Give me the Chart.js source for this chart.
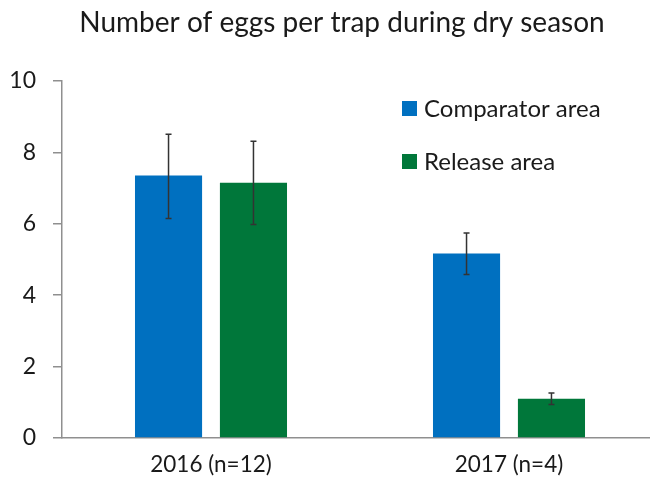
<!DOCTYPE html>
<html>
<head>
<meta charset="utf-8">
<script src="https://cdn.jsdelivr.net/npm/chart.js@4.4.1/dist/chart.umd.min.js"></script>
<style>
    html, body { margin: 0; padding: 0; background: #fff; overflow: hidden; }
    #frame { width: 650px; height: 484px; overflow: hidden; }
    /* the plot in the original runs a little past the right edge */
    #wrap { width: 658px; height: 484px; }
</style>
</head>
<body>
<div id="frame"><div id="wrap"><canvas id="eggs_chart"></canvas></div></div>
<script>
const chartTitle = 'Number of eggs per trap during dry season';
const categories = ['2016 (n=12)', '2017 (n=4)'];
const yTicks = [0, 2, 4, 6, 8, 10];

const comparatorValues = [7.35, 5.17];
const comparatorLow = [6.15, 4.58];
const comparatorHigh = [8.51, 5.74];

const releaseValues = [7.15, 1.10];
const releaseLow = [5.98, 0.94];
const releaseHigh = [8.31, 1.26];

let colors = {
    'blue': '#0070c0',
    'green': '#00773a',
    'axis': '#8f8f8f',
    'text': '#1a1a1a',
    'whisker': '#333333',
}

const fontFamily = "Lato, 'Open Sans', sans-serif";

const errorRanges = [
    { low: comparatorLow, high: comparatorHigh },
    { low: releaseLow, high: releaseHigh },
];

// error bars on top of each bar
const errorBars = {
    id: 'errorBars',
    afterDatasetsDraw(chart) {
        const ctx = chart.ctx;
        const y = chart.scales.y;
        ctx.save();
        ctx.strokeStyle = colors.whisker;
        ctx.lineWidth = 1.5;
        chart.data.datasets.forEach((ds, i) => {
            const meta = chart.getDatasetMeta(i);
            meta.data.forEach((bar, j) => {
                const yLo = y.getPixelForValue(errorRanges[i].low[j]);
                const yHi = y.getPixelForValue(errorRanges[i].high[j]);
                ctx.beginPath();
                ctx.moveTo(bar.x, yLo);
                ctx.lineTo(bar.x, yHi);
                ctx.moveTo(bar.x - 3, yLo);
                ctx.lineTo(bar.x + 3, yLo);
                ctx.moveTo(bar.x - 3, yHi);
                ctx.lineTo(bar.x + 3, yHi);
                ctx.stroke();
            });
        });
        ctx.restore();
    }
}

// title and legend drawn inside the plot, like the original
const titleLegend = {
    id: 'titleLegend',
    afterDraw(chart) {
        const ctx = chart.ctx;
        ctx.save();
        ctx.fillStyle = colors.text;
        ctx.font = `28px ${fontFamily}`;
        ctx.textAlign = 'center';
        ctx.textBaseline = 'middle';
        ctx.fillText(chartTitle, 342, 23);

        ctx.font = `24px ${fontFamily}`;
        ctx.textAlign = 'left';
        chart.data.datasets.forEach((ds, i) => {
            const top = 101 + i * 53;
            ctx.fillStyle = ds.backgroundColor;
            ctx.fillRect(402, top, 15, 15);
            ctx.fillStyle = colors.text;
            ctx.fillText(ds.label, 424, top + 8);
        });
        ctx.restore();
    }
}

new Chart(document.getElementById('eggs_chart'), {
    type: 'bar',
    data: {
        labels: categories,
        datasets: [{
            label: 'Comparator area',
            data: comparatorValues,
            backgroundColor: colors.blue,
        },
        {
            label: 'Release area',
            data: releaseValues,
            backgroundColor: colors.green,
        }]
    },
    options: {
        responsive: true,
        maintainAspectRatio: false,
        animation: false,
        categoryPercentage: 0.57,
        barPercentage: 0.79,
        layout: {
            padding: { top: 81, right: 0, left: 0, bottom: 0 }
        },
        scales: {
            x: {
                afterFit: (scale) => { scale.height = 46; },
                grid: {
                    display: true,
                    drawOnChartArea: false,
                    drawTicks: false,
                },
                border: { display: true, color: colors.axis, width: 1.5 },
                ticks: {
                    color: colors.text,
                    padding: 13,
                    font: { size: 22.5, family: fontFamily }
                }
            },
            y: {
                min: 0,
                max: 10,
                afterFit: (scale) => { scale.width = 62; },
                afterBuildTicks: (scale) => { scale.ticks = yTicks.map(v => ({ value: v })); },
                grid: {
                    drawOnChartArea: false,
                    color: colors.axis,
                    tickLength: 9,
                    lineWidth: 1.5,
                },
                border: { display: true, color: colors.axis, width: 1.5 },
                ticks: {
                    color: colors.text,
                    padding: 17,
                    font: { size: 23, family: fontFamily }
                }
            }
        },
        plugins: {
            legend: { display: false },
            tooltip: { enabled: false },
        }
    },
    plugins: [errorBars, titleLegend]
});
</script>
</body>
</html>
